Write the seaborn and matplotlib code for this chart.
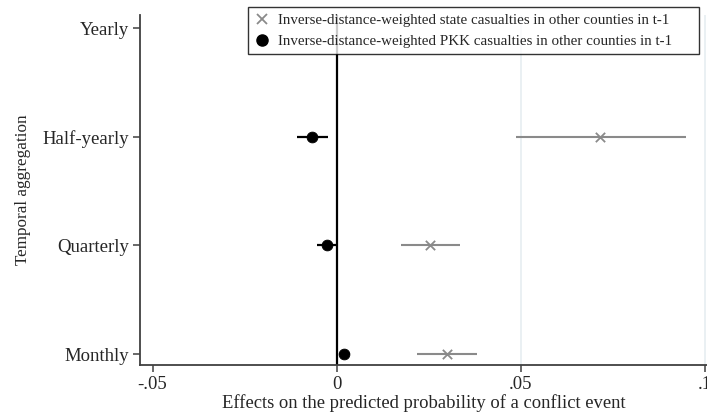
import numpy as np
import pandas as pd
import matplotlib
matplotlib.use("Agg")
import matplotlib.pyplot as plt
import seaborn as sns
from matplotlib.lines import Line2D

# Daten
aggregation = ['Monthly', 'Quarterly', 'Half-yearly', 'Yearly']

state_est = [0.0300, 0.0254, 0.0715, np.nan]
state_lo = [0.0217, 0.0175, 0.0486, np.nan]
state_hi = [0.0382, 0.0335, 0.0947, np.nan]

pkk_est = [0.0021, -0.0027, -0.0066, np.nan]
pkk_lo = [0.0005, -0.0053, -0.0109, np.nan]
pkk_hi = [0.0036, 0.0000, -0.0023, np.nan]

xticks = [-0.05, 0, 0.05, 0.1]
xticklabels = ['-.05', '0', '.05', '.1']
gridlines = [0.05, 0.1]

state_label = 'Inverse-distance-weighted state casualties in other counties in t-1'
pkk_label = 'Inverse-distance-weighted PKK casualties in other counties in t-1'

sns.set_style("white")
plt.rcParams['font.family'] = ['Liberation Serif', 'DejaVu Serif']

grau = '#8a8a8a'
achse = '#404040'


def baue_tabelle():
    pos = np.arange(len(aggregation))
    df_state = pd.DataFrame({'pos': pos, 'est': state_est, 'lo': state_lo, 'hi': state_hi, 'serie': 'state'})
    df_pkk = pd.DataFrame({'pos': pos, 'est': pkk_est, 'lo': pkk_lo, 'hi': pkk_hi, 'serie': 'pkk'})
    return pd.concat([df_state, df_pkk], ignore_index=True)


def plot_koeffizienten(df, dateiname='out.png'):
    fig = plt.figure(figsize=(7.07, 4.16), dpi=100)
    ax = fig.add_axes([140 / 707, 51 / 416, 567 / 707, 350 / 416])

    # Gitterlinien und Nulllinie
    for g in gridlines:
        ax.axvline(g, color='#e6eef1', lw=1.2, zorder=0)
    ax.axvline(0, color='black', lw=1.6, zorder=1)

    st = df[df['serie'] == 'state'].dropna()
    pk = df[df['serie'] == 'pkk'].dropna()

    # Konfidenzintervalle
    ax.hlines(st['pos'], st['lo'], st['hi'], color=grau, lw=1.5, zorder=2)
    ax.hlines(pk['pos'], pk['lo'], pk['hi'], color='black', lw=1.6, zorder=2)

    # Punktschätzer
    sns.scatterplot(data=st, x='est', y='pos', marker='x', s=45, color=grau,
                    linewidth=1.3, ax=ax, zorder=3, legend=False)
    sns.scatterplot(data=pk, x='est', y='pos', marker='o', s=60, color='black',
                    edgecolor='black', ax=ax, zorder=3, legend=False)

    ax.set_xlim(-0.0534, 0.1005)
    ax.set_ylim(-0.101, 3.12)
    ax.set_xticks(xticks)
    ax.set_xticklabels(xticklabels)
    ax.set_yticks(np.arange(len(aggregation)))
    ax.set_yticklabels(aggregation)
    ax.tick_params(axis='both', direction='out', length=5, width=1.1, color=achse,
                   labelsize=13.5, pad=3, left=True, bottom=True)

    for s in ['top', 'right']:
        ax.spines[s].set_visible(False)
    for s in ['left', 'bottom']:
        ax.spines[s].set_color(achse)
        ax.spines[s].set_linewidth(1.3)

    ax.set_xlabel('Effects on the predicted probability of a conflict event', fontsize=13.4, labelpad=1)
    ax.set_ylabel('Temporal aggregation', fontsize=12.3, labelpad=8)

    handles = [
        Line2D([], [], marker='x', color=grau, linestyle='none', markersize=7, markeredgewidth=1.3),
        Line2D([], [], marker='o', color='black', linestyle='none', markersize=8),
    ]
    leg = fig.legend(handles, [state_label, pkk_label], loc='upper left',
                     bbox_to_anchor=(248 / 707, 1 - 54 / 416, 451 / 707, 47 / 416), mode='expand',
                     fontsize=10.8, frameon=True, fancybox=False, handlelength=1.0, handletextpad=0.55,
                     borderpad=0.42, labelspacing=0.5, borderaxespad=0)
    leg.get_frame().set_edgecolor('black')
    leg.get_frame().set_linewidth(1.0)

    fig.savefig(dateiname, dpi=100)


if __name__ == "__main__":
    df = baue_tabelle()
    plot_koeffizienten(df)
